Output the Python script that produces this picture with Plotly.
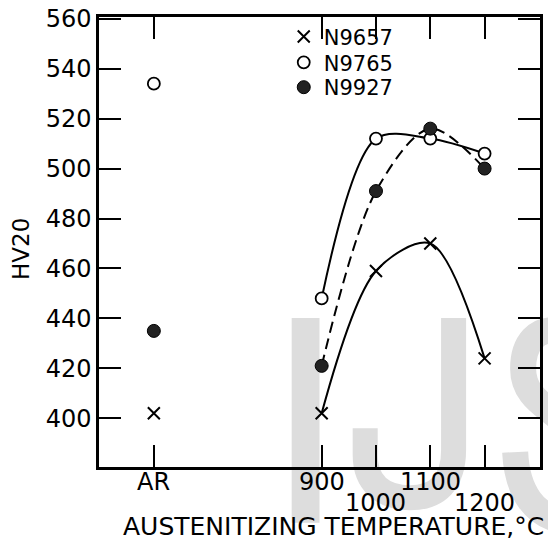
import plotly.graph_objects as go

# ---- data ----
temps = [900, 1000, 1100, 1200]          # austenitizing temperature, deg C
ar_pos = 591                              # position used for the "AR" (as received) column
n9657_ar = 402
n9657 = [402, 459, 470, 424]
n9765_ar = 534
n9765 = [448, 512, 512, 506]
n9927_ar = 435
n9927 = [421, 491, 516, 500]

tick_vals = [ar_pos, 900, 1000, 1100, 1200]
row1_vals = [ar_pos, 900, 1100]
row1_text = ["AR", "900", "1100"]
row2_vals = [1000, 1200]
row2_text = ["1000", "1200"]
y_ticks = [400, 420, 440, 460, 480, 500, 520, 540, 560]

# ---- figure geometry ----
W, H = 548, 544
L, R, T, B = 99, 5, 14, 77
PW, PH = W - L - R, H - T - B


def px(x):
    return (x - L) / PW


def py(y):
    return (H - B - y) / PH


FONT = "DejaVu Sans"
fig = go.Figure()

# lines
fig.add_trace(go.Scatter(x=temps, y=n9657, mode="lines", showlegend=False,
                         line=dict(color="black", width=2, shape="spline", smoothing=0.9)))
fig.add_trace(go.Scatter(x=temps, y=n9765, mode="lines", showlegend=False,
                         line=dict(color="black", width=2, shape="spline", smoothing=0.9)))
fig.add_trace(go.Scatter(x=temps, y=n9927, mode="lines", showlegend=False,
                         line=dict(color="black", width=2, shape="spline", smoothing=0.9,
                                   dash="11px,6px")))

# markers (one legend per row so that the rows can sit as in the reference)
fig.add_trace(go.Scatter(x=[ar_pos] + temps, y=[n9657_ar] + n9657, mode="markers", name="N9657",
                         legend="legend",
                         marker=dict(symbol="x-thin-open", size=12, color="black",
                                     line=dict(color="black", width=2))))
fig.add_trace(go.Scatter(x=[ar_pos] + temps, y=[n9765_ar] + n9765, mode="markers", name="N9765",
                         legend="legend2",
                         marker=dict(symbol="circle", size=12, color="white",
                                     line=dict(color="black", width=1.8))))
fig.add_trace(go.Scatter(x=[ar_pos] + temps, y=[n9927_ar] + n9927, mode="markers", name="N9927",
                         legend="legend3",
                         marker=dict(symbol="circle", size=13, color="#222",
                                     line=dict(color="black", width=1))))

# watermark (light grey letters behind the data)
wm = "#dddddd"
shapes = [
    dict(type="rect", xref="paper", yref="paper", layer="below",
         x0=px(293), x1=px(321), y0=py(317), y1=py(523), fillcolor=wm, line=dict(width=0)),
    dict(type="path", xref="paper", yref="paper", layer="below",
         path=f"M {px(456)} {py(317)} L {px(456)} {py(450)} "
              f"C {px(456)} {py(482)} {px(440)} {py(498)} {px(412)} {py(498)} "
              f"C {px(384)} {py(498)} {px(367)} {py(482)} {px(367)} {py(455)} L {px(367)} {py(428)}",
         line=dict(color=wm, width=25)),
    dict(type="path", xref="paper", yref="paper", layer="below",
         path=f"M {px(562)} {py(330)} C {px(540)} {py(326)} {px(526)} {py(342)} {px(526)} {py(368)} "
              f"C {px(526)} {py(395)} {px(548)} {py(405)} {px(562)} {py(418)}",
         line=dict(color=wm, width=26)),
    dict(type="path", xref="paper", yref="paper", layer="below",
         path=f"M {px(518)} {py(452)} C {px(520)} {py(495)} {px(540)} {py(515)} {px(562)} {py(520)}",
         line=dict(color=wm, width=26)),
]

annotations = []
for v, t in zip(row1_vals, row1_text):
    annotations.append(dict(x=v, y=py(482), xref="x", yref="paper", text=t, showarrow=False,
                            xanchor="center", yanchor="middle",
                            font=dict(family=FONT, size=24, color="black")))
for v, t in zip(row2_vals, row2_text):
    annotations.append(dict(x=v, y=py(503), xref="x", yref="paper", text=t, showarrow=False,
                            xanchor="center", yanchor="middle",
                            font=dict(family=FONT, size=24, color="black")))
annotations.append(dict(x=px(121), y=py(527), xref="paper", yref="paper",
                        text="AUSTENITIZING TEMPERATURE,°C", showarrow=False,
                        xanchor="left", yanchor="middle",
                        font=dict(family=FONT, size=25, color="black")))
annotations.append(dict(x=px(21), y=py(248), xref="paper", yref="paper", text="HV20",
                        showarrow=False, textangle=-90, xanchor="center", yanchor="middle",
                        font=dict(family=FONT, size=23, color="black")))


def leg(row_y):
    return dict(x=px(285), y=py(row_y), xanchor="left", yanchor="middle",
                bgcolor="rgba(0,0,0,0)", borderwidth=0,
                font=dict(family=FONT, size=21, color="black"), itemwidth=30)


fig.update_layout(
    width=W, height=H,
    margin=dict(l=L, r=R, t=T, b=B, pad=0),
    paper_bgcolor="white", plot_bgcolor="white",
    font=dict(family=FONT, color="black"),
    showlegend=True,
    legend=leg(34), legend2=leg(60), legend3=leg(85),
    shapes=shapes,
    annotations=annotations,
)
fig.update_xaxes(range=[490, 1302], tickmode="array", tickvals=tick_vals, showticklabels=False,
                 ticks="inside", ticklen=22, tickwidth=2, tickcolor="black",
                 showline=True, linewidth=2.5, linecolor="black", mirror="ticks",
                 showgrid=False, zeroline=False)
fig.update_yaxes(range=[380.5, 560.7], tickmode="array", tickvals=y_ticks,
                 ticks="inside", ticklen=22, tickwidth=2, tickcolor="black",
                 showline=True, linewidth=2.5, linecolor="black", mirror="ticks",
                 showgrid=False, zeroline=False,
                 tickfont=dict(family=FONT, size=24, color="black"))

fig.write_html("out.html", config={"displayModeBar": False},
               post_script="document.body.style.margin='0';")
